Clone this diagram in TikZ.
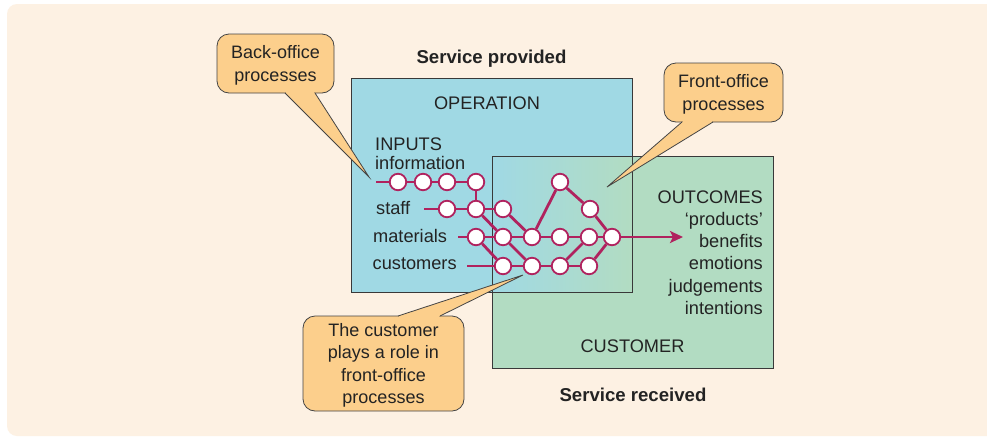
\documentclass[tikz,border=0pt]{standalone}
\usepackage{fontspec}
\setmainfont{Liberation Sans}
\usetikzlibrary{arrows.meta,calc}
\definecolor{cream}{RGB}{253,241,227}
\definecolor{opblue}{RGB}{160,217,228}
\definecolor{cugreen}{RGB}{178,220,194}
\definecolor{callfill}{RGB}{252,207,140}
\definecolor{crim}{RGB}{176,34,94}
\definecolor{ink}{RGB}{35,35,35}
\begin{document}
\begin{tikzpicture}[x=1pt,y=-1pt,
  txt/.style={font=\fontsize{18.2}{22.1}\selectfont, text=ink, inner sep=0pt},
  titletxt/.style={font=\fontsize{18.6}{22}\selectfont\bfseries, text=ink, inner sep=0pt},
  callout/.style={draw=ink!85, line width=0.8pt, fill=callfill, rounded corners=12pt,
    align=center, inner sep=0pt, text depth=0pt, font=\fontsize{18}{22.2}\selectfont, text=ink},
  pointerfill/.style={fill=callfill},
  pointerline/.style={draw=ink!85, line width=0.8pt, line join=miter},
  pn/.style={circle, draw=crim, fill=white, line width=1.8pt, minimum size=16.5pt, inner sep=0pt},
  flow/.style={draw=crim, line width=2.8pt},
  boxline/.style={draw=ink!90, line width=0.8pt}]
\useasboundingbox (0,0) rectangle (987,437);
\fill[white] (0,0) rectangle (987,437);
\fill[cream, rounded corners=10pt] (7,4) rectangle (1000,436);

% boxes
\fill[opblue] (351,78) rectangle (632,292);
\fill[cugreen] (492,156) rectangle (773,368);
\shade[left color=opblue, right color=cugreen] (492,156) rectangle (632,292);
\draw[boxline] (492,156) rectangle (773,368);
\draw[boxline] (351,78) rectangle (632,292);

% titles and box labels
\node[titletxt, anchor=base] (sp) at (491.5,63) {Service provided};
\node[titletxt, anchor=base] (sr) at (633,401.5) {Service received};
\node[txt, anchor=base] (op) at (487,109.3) {OPERATION};
\node[txt, anchor=base] (cu) at (632.5,352.3) {CUSTOMER};

% inputs
\node[txt, anchor=base west] (inp) at (375,150.5) {INPUTS};
\node[txt, anchor=base west] (info) at (375,169) {information};
\node[txt, anchor=base west] (stf) at (376,214.5) {staff};
\node[txt, anchor=base west] (mat) at (373,242.7) {materials};
\node[txt, anchor=base west] (cus) at (372.5,269.3) {customers};

% outcomes
\node[txt, align=right, anchor=east, text depth=0pt] (out) at (763,252.5)
  {OUTCOMES\\‘products’\\benefits\\emotions\\judgements\\intentions};

% callouts
\node[callout, minimum width=117pt, minimum height=59pt] (back) at (275.5,63.5) {Back-office\\processes};
\node[callout, minimum width=119pt, minimum height=59pt] (front) at (723.5,92.5) {Front-office\\processes};
\node[callout, minimum width=161pt, minimum height=95pt] (custc) at (383.5,363.5) {The customer\\plays a role in\\front-office\\processes};

\coordinate (bl) at (285,93); \coordinate (br) at (315,93); \coordinate (bt) at (369,177);
\coordinate (fl) at (682,122); \coordinate (fr) at (713,122); \coordinate (ft) at (607,187);
\coordinate (cl) at (398,316); \coordinate (cr) at (440,316); \coordinate (ct) at (523,275);

\fill[pointerfill] (bl) -- (bt) -- (br) -- cycle;
\fill[pointerfill] ($(bl)+(0.6,-1)$) rectangle ($(br)+(-0.6,0.6)$);
\draw[pointerline] (bl) -- (bt) -- (br);

\fill[pointerfill] (fl) -- (ft) -- (fr) -- cycle;
\fill[pointerfill] ($(fl)+(0.6,-1)$) rectangle ($(fr)+(-0.6,0.6)$);
\draw[pointerline] (fl) -- (ft) -- (fr);

\fill[pointerfill] (cl) -- (ct) -- (cr) -- cycle;
\fill[pointerfill] ($(cl)+(0.6,1)$) rectangle ($(cr)+(-0.6,-0.6)$);
\draw[pointerline] (cl) -- (ct) -- (cr);

% process network
\node[pn] (i1) at (398,182) {};
\node[pn] (i2) at (423,182) {};
\node[pn] (i3) at (447,182) {};
\node[pn] (i4) at (476,182) {};
\node[pn] (s1) at (447,209) {};
\node[pn] (s2) at (476,209) {};
\node[pn] (s3) at (503,209) {};
\node[pn] (s4) at (590,209) {};
\node[pn] (m1) at (476,237) {};
\node[pn] (m2) at (503,237) {};
\node[pn] (m3) at (532,237) {};
\node[pn] (m4) at (560,237) {};
\node[pn] (m5) at (589,237) {};
\node[pn] (m6) at (612,237) {};
\node[pn] (c1) at (503,266) {};
\node[pn] (c2) at (532,266) {};
\node[pn] (c3) at (560,266) {};
\node[pn] (c4) at (589,266) {};
\node[pn] (tp) at (560,182) {};

\coordinate (is) at (376,182);
\coordinate (ss) at (424,209);
\coordinate (ms) at (458,237);
\coordinate (cs) at (467,266);
\coordinate (ae) at (683,237);

\draw[flow] (is) -- (i1);
\draw[flow] (i1) -- (i2);
\draw[flow] (i2) -- (i3);
\draw[flow] (i3) -- (i4);
\draw[flow] (i4) -- (s2);
\draw[flow] (ss) -- (s1);
\draw[flow] (s1) -- (s2);
\draw[flow] (s2) -- (s3);
\draw[flow] (s2) -- (m2);
\draw[flow] (s3) -- (m3);
\draw[flow] (ms) -- (m1);
\draw[flow] (m1) -- (m2);
\draw[flow] (m2) -- (m3);
\draw[flow] (m3) -- (m4);
\draw[flow] (m4) -- (m5);
\draw[flow] (m5) -- (m6);
\draw[flow] (m1) -- (c1);
\draw[flow] (m2) -- (c2);
\draw[flow] (cs) -- (c1);
\draw[flow] (c1) -- (c2);
\draw[flow] (c2) -- (c3);
\draw[flow] (c3) -- (c4);
\draw[flow] (c3) -- (m5);
\draw[flow] (c4) -- (m6);
\draw[flow] (m3) -- (tp);
\draw[flow] (tp) -- (s4);
\draw[flow] (s4) -- (m6);
\draw[flow, -{Stealth[length=13pt,width=12pt,inset=3pt]}] (m6) -- (ae);
\end{tikzpicture}
\end{document}
